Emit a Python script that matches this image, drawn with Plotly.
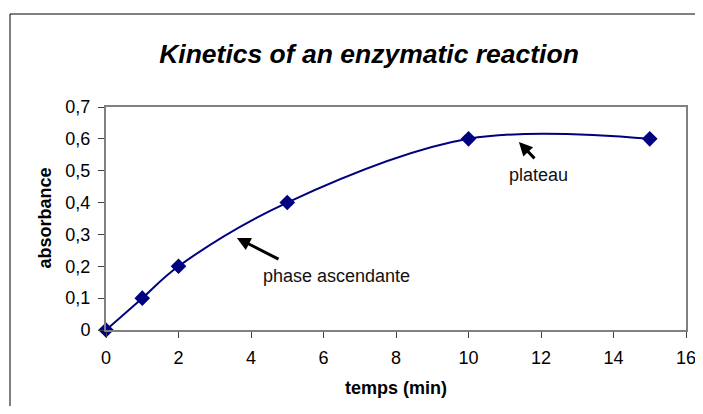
import plotly.graph_objects as go

# Data
temps = [0, 1, 2, 5, 10, 15]
absorbance = [0, 0.1, 0.2, 0.4, 0.6, 0.6]
x_ticks = [0, 2, 4, 6, 8, 10, 12, 14, 16]
y_ticks = [0, 0.1, 0.2, 0.3, 0.4, 0.5, 0.6, 0.7]

title_text = "Kinetics of an enzymatic reaction"
x_title = "temps (min)"
y_title = "absorbance"

FONT = "Liberation Sans, Arial, sans-serif"
NAVY = "#000080"
GRAY = "#808080"

# the page body adds an 8px offset; figure is sized so the plot lands where the reference has it
W, H = 695, 398
L, T, R, B = 98, 99, 17, 76
PW = W - L - R
PH = H - T - B

fig = go.Figure()
fig.add_trace(go.Scatter(
    x=temps, y=absorbance,
    mode="lines+markers",
    line=dict(color=NAVY, width=2, shape="spline", smoothing=1.0),
    marker=dict(symbol="diamond", size=12, color=NAVY),
    cliponaxis=False,
    showlegend=False,
    hoverinfo="x+y",
))

fig.update_layout(
    width=W, height=H,
    margin=dict(l=L, r=R, t=T, b=B, autoexpand=False),
    paper_bgcolor="white", plot_bgcolor="white",
    separators=", ",
    font=dict(family=FONT, size=18, color="black"),
    title=dict(
        text="<b><i>" + title_text + "</i></b>",
        font=dict(family=FONT, size=26.5, color="black"),
        x=(369 - 8) / W, xanchor="center", xref="container",
        y=1 - (54 - 8) / H, yanchor="middle", yref="container",
    ),
    xaxis=dict(
        range=[0, 16], tickvals=x_ticks, showgrid=False, zeroline=False,
        showline=True, mirror=True, linecolor=GRAY, linewidth=2,
        ticks="outside", ticklen=6, tickwidth=1, tickcolor="#404040",
        tickfont=dict(family=FONT, size=18, color="black"),
        ticklabelstandoff=4, automargin=False,
    ),
    yaxis=dict(
        range=[0, 0.7], tickvals=y_ticks, showgrid=False, zeroline=False,
        showline=True, mirror=True, linecolor=GRAY, linewidth=2,
        ticks="outside", ticklen=6, tickwidth=1, tickcolor="#404040",
        tickfont=dict(family=FONT, size=18, color="black"),
        ticklabelstandoff=4, automargin=False,
    ),
)

# outer chart border (only left and top edges are visible in the reference)
bx = (2 - L) / PW
by = (PH + T - 6) / PH
fig.add_shape(type="line", xref="paper", yref="paper",
              x0=bx, x1=1.5, y0=by, y1=by,
              line=dict(color="black", width=1), layer="below")
fig.add_shape(type="line", xref="paper", yref="paper",
              x0=bx, x1=bx, y0=-0.8, y1=by,
              line=dict(color="black", width=1), layer="below")

# axis titles
fig.add_annotation(text="<b>" + x_title + "</b>", xref="paper", yref="paper",
                   x=0.5, y=0, yshift=-58, xanchor="center", yanchor="middle",
                   showarrow=False, font=dict(family=FONT, size=18, color="black"))
fig.add_annotation(text="<b>" + y_title + "</b>", xref="paper", yref="paper",
                   x=0, y=0.5, xshift=-62, xanchor="center", yanchor="middle",
                   textangle=-90, showarrow=False,
                   font=dict(family=FONT, size=18, color="black"))

# arrows
for tip, tail in [((3.61, 0.289), (4.80, 0.220)), ((11.39, 0.590), (11.86, 0.534))]:
    fig.add_annotation(x=tip[0], y=tip[1], ax=tail[0], ay=tail[1],
                       xref="x", yref="y", axref="x", ayref="y",
                       text="", showarrow=True, arrowhead=2, arrowsize=0.9,
                       arrowwidth=3, arrowcolor="black")

fig.add_annotation(text="phase ascendante", x=6.37, y=0.170, xref="x", yref="y",
                   showarrow=False, font=dict(family=FONT, size=18, color="#111111"))
fig.add_annotation(text="plateau", x=11.94, y=0.487, xref="x", yref="y",
                   showarrow=False, font=dict(family=FONT, size=18, color="#111111"))

fig.write_html("out.html")
